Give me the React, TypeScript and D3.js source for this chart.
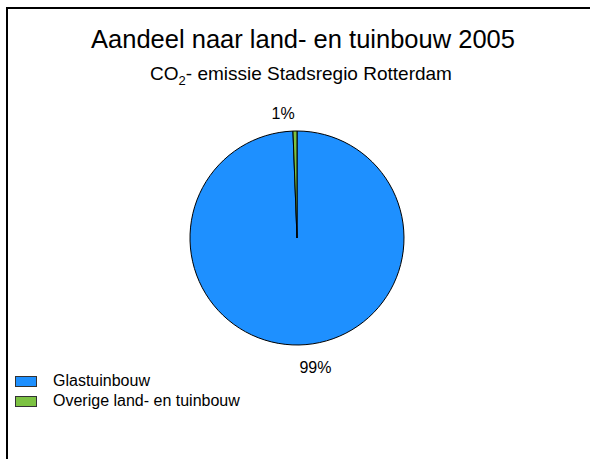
import React from "react";
import * as d3 from "d3";

// Share of CO2 emissions per agricultural sector, 2005
const categories = ["Glastuinbouw", "Overige land- en tuinbouw"];
const shares = [99.4, 0.6];
const colors = ["#1e90ff", "#7cc242"];

const W = 590;
const H = 459;
const FONT = "'Liberation Sans', Arial, Helvetica, sans-serif";

export default function App() {
  const cx = 297;
  const cy = 238;
  const r = 107;

  const pie = d3
    .pie<number>()
    .sort(null)
    .value((d) => d)(shares);

  const arc = d3.arc<d3.PieArcDatum<number>>().innerRadius(0).outerRadius(r);
  const labelArc = d3
    .arc<d3.PieArcDatum<number>>()
    .innerRadius(r + 20)
    .outerRadius(r + 20);

  const total = d3.sum(shares);

  return (
    <svg
      width={W}
      height={H}
      style={{ position: "absolute", left: 0, top: 0, background: "#fff" }}
      fontFamily={FONT}
    >
      {/* frame */}
      <rect x={7} y={8} width={W + 10} height={H + 10} fill="#fff" stroke="#000" strokeWidth={2} />

      <text x={303} y={48} textAnchor="middle" fontSize={25.5} fill="#000">
        Aandeel naar land- en tuinbouw 2005
      </text>
      <text x={301} y={80} textAnchor="middle" fontSize={19} fill="#000">
        CO
        <tspan fontSize={13} dy={5}>2</tspan>
        <tspan dy={-5}>- emissie Stadsregio Rotterdam</tspan>
      </text>

      <g transform={`translate(${cx},${cy})`}>
        {pie.map((p, i) => (
          <path key={i} d={arc(p) || ""} fill={colors[i]} stroke="#000" strokeWidth={1} />
        ))}
        {pie.map((p, i) => {
          const [x, y] = labelArc.centroid(p);
          const mid = (p.startAngle + p.endAngle) / 2;
          const right = Math.sin(mid) > 0;
          return (
            <text
              key={"l" + i}
              x={x}
              y={y + 4}
              textAnchor={right ? "start" : "end"}
              dominantBaseline="middle"
              fontSize={16}
              fill="#000"
            >
              {Math.round((p.data / total) * 100)}%
            </text>
          );
        })}
      </g>

      {categories.map((c, i) => (
        <g key={c} transform={`translate(15,${376 + i * 20})`}>
          <rect x={0.5} y={0.5} width={21} height={10} fill={colors[i]} stroke="#333" strokeWidth={1} />
          <text x={38} y={6} dominantBaseline="middle" fontSize={16} fill="#000">
            {c}
          </text>
        </g>
      ))}
    </svg>
  );
}
